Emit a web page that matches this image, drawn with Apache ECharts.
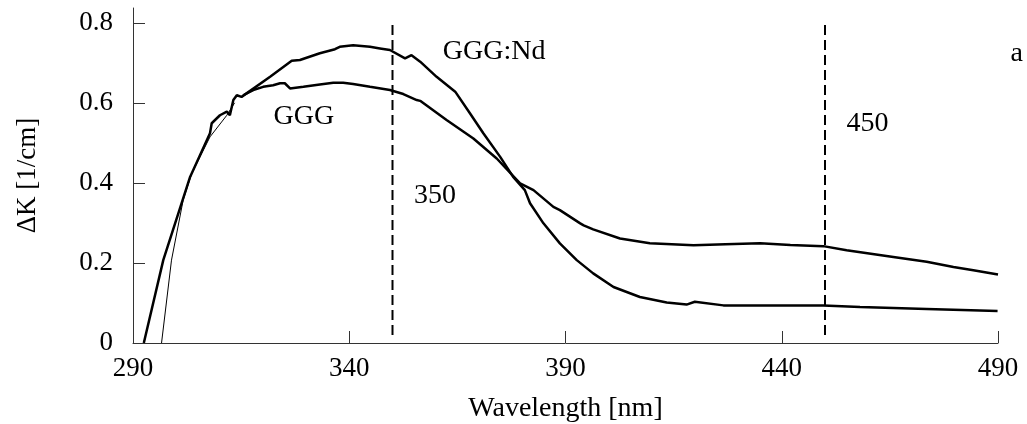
<!DOCTYPE html>
<style>
body {margin: 0; background: #fff;}
#div_echart {height: 424px; width: 1027px;}
</style>
<script src='https://cdn.jsdelivr.net/npm/echarts@6/dist/echarts.min.js'></script>
<div id='div_echart'></div>
<script>
// wavelength [nm], delta K [1/cm]
let ggg_nd = [
	[292.5, 0], [297.0, 0.207], [303.2, 0.415], [307.8, 0.524], [308.2, 0.549], [310.1, 0.569],
	[311.7, 0.578], [312.4, 0.569], [313.2, 0.607], [314.0, 0.619], [315.1, 0.615], [315.5, 0.619],
	[321.7, 0.665], [326.7, 0.705], [328.6, 0.707], [333.2, 0.724], [336.7, 0.734], [337.8, 0.740],
	[340.9, 0.744], [344.8, 0.740], [347.1, 0.736], [349.4, 0.732], [352.9, 0.711], [354.4, 0.719],
	[356.4, 0.703], [360.2, 0.665], [364.5, 0.628], [367.9, 0.574], [371.0, 0.524], [374.9, 0.465],
	[377.9, 0.415], [380.6, 0.382], [381.8, 0.349], [384.9, 0.299], [388.7, 0.249], [392.6, 0.207],
	[396.4, 0.174], [401.1, 0.140], [407.2, 0.115], [413.4, 0.101], [418.0, 0.096], [419.9, 0.103],
	[426.5, 0.094], [449.6, 0.094], [458.1, 0.090], [473.5, 0.085], [489.9, 0.080]
]
let ggg_start = [
	[296.6, 0], [298.9, 0.207], [301.6, 0.357], [303.6, 0.424], [307.8, 0.515], [311.7, 0.569], [313.5, 0.600]
]
let ggg = [
	[315.5, 0.619], [317.8, 0.632], [320.1, 0.640], [322.4, 0.644], [324.0, 0.649], [325.1, 0.649],
	[326.3, 0.636], [329.4, 0.640], [333.2, 0.646], [336.3, 0.650], [338.6, 0.650], [340.9, 0.647],
	[344.8, 0.640], [349.4, 0.632], [352.5, 0.622], [355.6, 0.607], [356.4, 0.605], [362.5, 0.557],
	[368.7, 0.511], [374.1, 0.461], [379.5, 0.399], [382.6, 0.382], [387.2, 0.340], [388.7, 0.332],
	[393.4, 0.299], [394.2, 0.294], [396.4, 0.284], [402.6, 0.261], [409.5, 0.249], [419.6, 0.244],
	[427.0, 0.247], [435.0, 0.249], [442.0, 0.245], [449.6, 0.242], [455.0, 0.232], [465.8, 0.215],
	[473.5, 0.203], [479.7, 0.190], [484.3, 0.182], [490.0, 0.171]
]
let markers = [350, 450]
let marker_span = [0.02, 0.8]
let notes = [
	['GGG', 329.5, 0.566],
	['GGG:Nd', 373.5, 0.729],
	['350', 359.8, 0.367],
	['450', 459.8, 0.549],
	['a', 494.3, 0.722]
]
let y_ticks = [0, 0.2, 0.4, 0.6, 0.8]

let font = 'Liberation Serif'
let ink = '#000'

let echart = echarts.init(document.getElementById('div_echart'))
let series = [
	{type: 'line', data: ggg_nd, showSymbol: false, lineStyle: {color: ink, width: 2.5}},
	{type: 'line', data: ggg_start, showSymbol: false, lineStyle: {color: ink, width: 1}},
	{type: 'line', data: ggg, showSymbol: false, lineStyle: {color: ink, width: 2.5}}
]
for (let m of markers) {
	series.push({type: 'line', data: marker_span.map(v => [m, v]), showSymbol: false,
		lineStyle: {color: ink, width: 2, type: [10, 5]}})
}
series.push({
	type: 'scatter', clip: false, symbolSize: 1, itemStyle: {color: 'rgba(0,0,0,0)', opacity: 1},
	data: notes.map(n => ({name: n[0], value: [n[1], n[2]]})),
	label: {show: true, position: 'inside', formatter: p => p.name, opacity: 1,
		fontFamily: font, fontSize: 28, color: ink}
})
echart.setOption({
	animation: false,
	grid: {left: 133, right: 29, top: 8, bottom: 81, outerBoundsMode: 'none'},
	xAxis: {
		type: 'value', min: 290, max: 490, interval: 50,
		name: 'Wavelength [nm]', nameLocation: 'middle', nameGap: 52,
		nameTextStyle: {fontFamily: font, fontSize: 28, color: ink},
		axisLine: {lineStyle: {color: '#333', width: 1}}, splitLine: {show: false},
		axisTick: {inside: true, length: 12, lineStyle: {color: '#333'}},
		axisLabel: {fontFamily: font, fontSize: 27, color: ink, margin: 12}
	},
	yAxis: {
		type: 'value', min: 0, max: 0.837,
		name: 'ΔK [1/cm]', nameLocation: 'middle', nameGap: 92,
		nameTextStyle: {fontFamily: font, fontSize: 27, color: ink},
		axisLine: {show: true, lineStyle: {color: '#333', width: 1}}, splitLine: {show: false},
		axisTick: {show: true, inside: true, length: 12, customValues: y_ticks, lineStyle: {color: '#333'}},
		axisLabel: {fontFamily: font, fontSize: 27, color: ink, margin: 20, customValues: y_ticks}
	},
	series
})
</script>
